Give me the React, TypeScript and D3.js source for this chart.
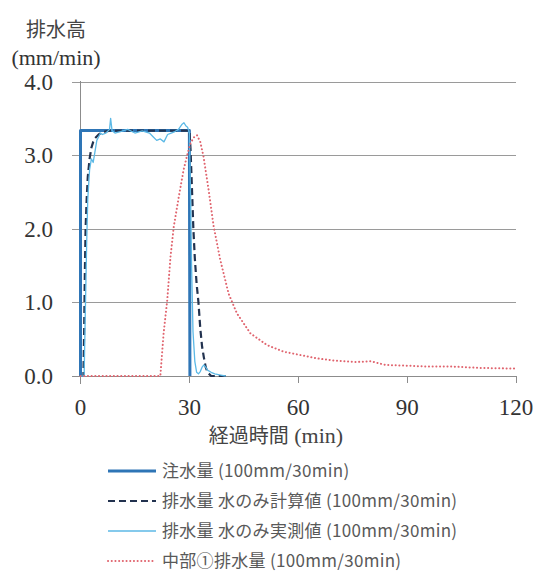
import React from "react";
import * as d3 from "d3";

const xTicks = [0, 30, 60, 90, 120];
const yTicks = [0, 1, 2, 3, 4];

const injT = [0, 0, 30, 30.15];
const injV = [0, 3.333, 3.333, 0];

const calcT = [0, 0.8, 1.0, 1.2, 1.4, 1.7, 2.0, 2.5, 3.0, 3.5, 4.0, 5.0, 6.0, 8.0, 30.0, 30.3, 30.6, 31.1, 31.5, 32.0, 32.5, 33.0, 33.5, 34.0, 34.5, 35.0, 36.0, 40.0];
const calcV = [0, 0, 0.6, 1.4, 2.0, 2.4, 2.7, 2.95, 3.1, 3.18, 3.23, 3.28, 3.31, 3.333, 3.333, 3.1, 2.7, 2.0, 1.6, 1.25, 1.0, 0.65, 0.4, 0.25, 0.12, 0.05, 0, 0];

const measT = [0, 1.0, 1.3, 1.7, 2.0, 2.5, 3.0, 3.5, 4.0, 4.5, 5.0, 5.5, 6.0, 7.0, 8.0, 8.3, 8.7, 9.5, 11, 13, 15, 17, 19, 20, 21, 22, 23, 24, 25, 26, 27, 28, 28.5, 29, 29.5, 30, 30.3, 30.6, 31, 31.5, 32, 32.5, 33, 33.5, 34, 34.5, 35, 36, 37, 38, 39, 40];
const measV = [0, 0, 0.8, 1.8, 2.4, 2.8, 2.95, 2.9, 3.05, 3.2, 3.25, 3.3, 3.28, 3.3, 3.35, 3.5, 3.33, 3.3, 3.32, 3.35, 3.3, 3.33, 3.3, 3.25, 3.2, 3.22, 3.18, 3.28, 3.3, 3.32, 3.35, 3.42, 3.44, 3.4, 3.38, 3.3, 2.5, 1.5, 0.6, 0.2, 0.05, 0.03, 0.06, 0.12, 0.15, 0.12, 0.08, 0.05, 0.03, 0.02, 0.01, 0];

const midT = [0, 22, 22.9, 23.9, 24.8, 25.7, 27.1, 28.4, 29.5, 30.3, 31.2, 32.1, 33.0, 33.9, 35.3, 36.7, 38.5, 40.8, 43.1, 46.8, 51.4, 56, 60, 65, 70, 76, 80, 84, 90, 95, 102, 110, 120];
const midV = [0, 0, 0.58, 1.03, 1.62, 2.03, 2.44, 2.8, 3.02, 3.16, 3.24, 3.27, 3.18, 2.98, 2.53, 2.03, 1.58, 1.12, 0.85, 0.58, 0.42, 0.33, 0.29, 0.24, 0.21, 0.19, 0.2, 0.15, 0.14, 0.13, 0.13, 0.11, 0.1];

const legendLabels = [
  "注水量 (100mm/30min)",
  "排水量 水のみ計算値 (100mm/30min)",
  "排水量 水のみ実測値 (100mm/30min)",
  "中部①排水量 (100mm/30min)",
];

const serif = "'Liberation Serif', 'Times New Roman', serif";
const jp = "'Noto Sans CJK JP', 'Noto Sans', sans-serif";

export default function App() {
  const x = d3.scaleLinear().domain([0, 120]).range([80.5, 516]);
  const y = d3.scaleLinear().domain([0, 4]).range([376, 81.5]);
  const lin = (ts: number[], vs: number[]) =>
    d3.line<number>().x((_, i) => x(ts[i])).y((v) => y(v))(vs) || "";

  const styles = [
    { stroke: "#2E75B6", width: 3, dash: undefined as string | undefined, cap: "butt" },
    { stroke: "#22324F", width: 2.2, dash: "7,4", cap: "butt" },
    { stroke: "#5CB9E6", width: 1.3, dash: undefined, cap: "butt" },
    { stroke: "#E0646E", width: 2, dash: "0.1,3.6", cap: "round" },
  ];
  const paths = [
    lin(injT, injV),
    lin(calcT, calcV),
    lin(measT, measV),
    lin(midT, midV),
  ];
  const legendY = [471, 501, 531, 561];

  return (
    <svg width={536} height={572} style={{ position: "absolute", left: 0, top: 0, background: "#fff" }}>
      {yTicks.map((t) => (
        <line key={"g" + t} x1={72} x2={516} y1={Math.round(y(t)) + 0.5} y2={Math.round(y(t)) + 0.5} stroke={t === 0 ? "#8C8C8C" : "#9A9A9A"} strokeWidth={1} />
      ))}
      <line x1={80.5} x2={80.5} y1={81} y2={384} stroke="#8C8C8C" strokeWidth={1} />
      {xTicks.slice(1).map((t) => (
        <line key={"xt" + t} x1={Math.round(x(t)) + 0.5} x2={Math.round(x(t)) + 0.5} y1={376} y2={383} stroke="#8C8C8C" strokeWidth={1} />
      ))}
      {yTicks.map((t) => (
        <text key={"yl" + t} x={53} y={y(t)} dy="0.35em" textAnchor="end" fontFamily={serif} fontSize={23} fill="#333">
          {t.toFixed(1)}
        </text>
      ))}
      {xTicks.map((t) => (
        <text key={"xl" + t} x={x(t)} y={407} dy="0.35em" textAnchor="middle" fontFamily={serif} fontSize={23} fill="#333">
          {t}
        </text>
      ))}
      <text x={56} y={30} dy="0.35em" textAnchor="middle" fontFamily={jp} fontSize={20} fill="#444">排水高</text>
      <text x={56} y={57} dy="0.35em" textAnchor="middle" fontFamily={serif} fontSize={22} fill="#333">(mm/min)</text>
      <text x={276} y={437} dy="0.35em" textAnchor="middle" fill="#444">
        <tspan fontFamily={jp} fontSize={20}>経過時間</tspan>
        <tspan fontFamily={serif} fontSize={22}>{"  (min)"}</tspan>
      </text>
      {paths.map((p, i) => (
        <path key={"s" + i} d={p} fill="none" stroke={styles[i].stroke} strokeWidth={styles[i].width}
          strokeDasharray={styles[i].dash} strokeLinecap={styles[i].cap as any} strokeLinejoin="round" />
      ))}
      {legendLabels.map((lab, i) => (
        <g key={"lg" + i}>
          <line x1={108} x2={156} y1={legendY[i]} y2={legendY[i]} stroke={styles[i].stroke}
            strokeWidth={i === 2 ? 1.3 : styles[i].width} strokeDasharray={styles[i].dash} strokeLinecap={styles[i].cap as any} />
          <text x={162} y={legendY[i]} dy="0.35em" fontFamily={jp} fontSize={17} letterSpacing={0.3} fill="#595959">{lab}</text>
        </g>
      ))}
    </svg>
  );
}
